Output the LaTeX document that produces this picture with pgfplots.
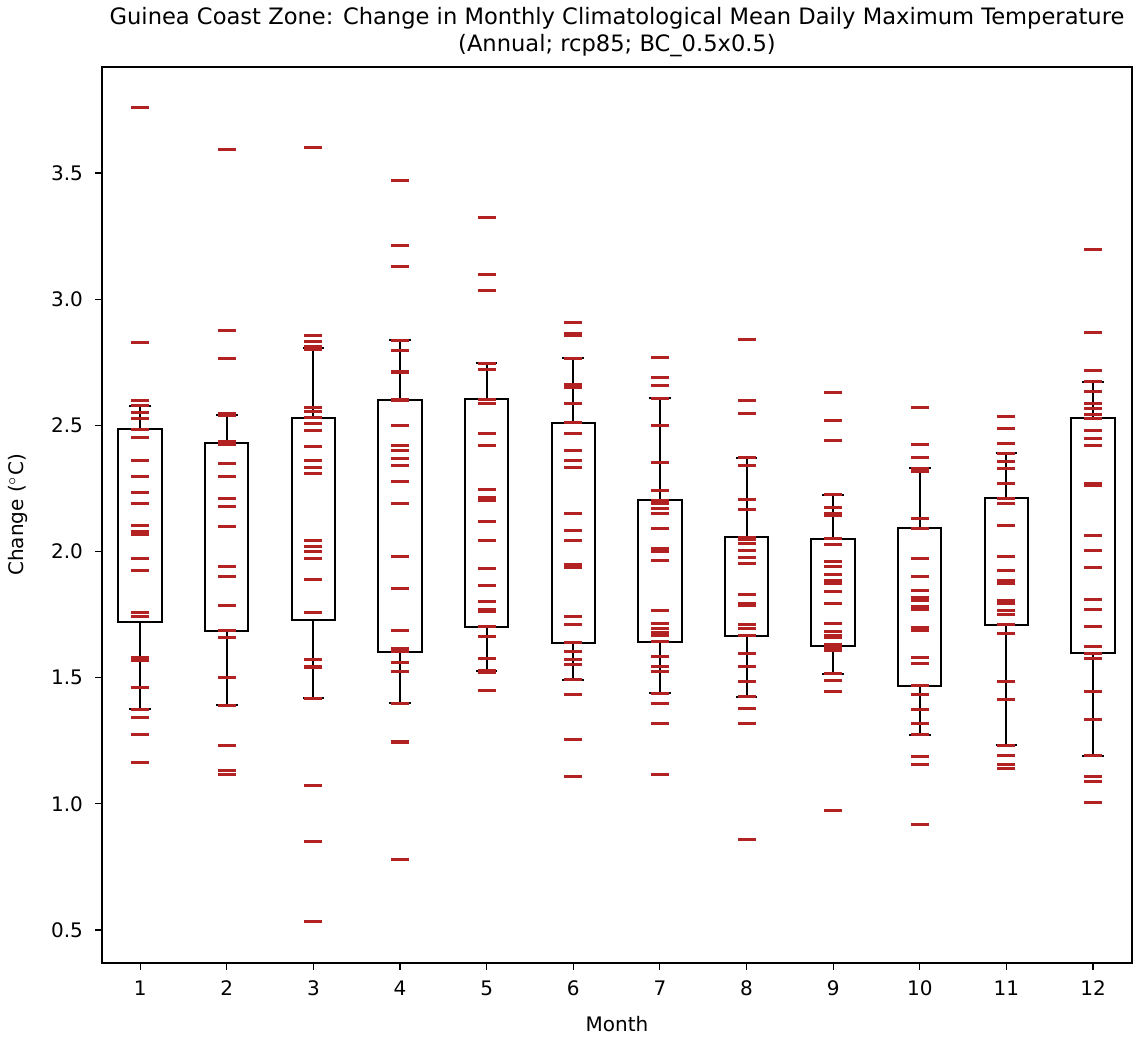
\documentclass[border=0pt]{standalone}
\usepackage{fontspec}
\setmainfont{DejaVu Sans}
\usepackage{pgfplots}
\pgfplotsset{compat=1.18}
\usepgfplotslibrary{statistics}
\definecolor{firebrick}{RGB}{178,34,34}
\begin{document}
\begin{tikzpicture}
\begin{axis}[
  scale only axis,
  width=515pt, height=448pt,
  xmin=0.56, xmax=12.45,
  ymin=0.369, ymax=3.92,
  xtick={1,2,3,4,5,6,7,8,9,10,11,12},
  ytick={0.5,1.0,1.5,2.0,2.5,3.0,3.5},
  yticklabel style={xshift=-2.5pt, /pgf/number format/fixed, /pgf/number format/fixed zerofill, /pgf/number format/precision=1},
  /pgf/number format/assume math mode=true,
  tick align=outside,
  xtick pos=bottom, ytick pos=left,
  major tick length=3.5pt,
  tick style={black, line width=0.6pt},
  axis line style={line width=0.6pt},
  xlabel={Month}, ylabel={Change ($^\circ$C)},
  xlabel style={yshift=-3pt},
  ylabel style={yshift=5pt},
  xticklabel style={yshift=-2pt},
  title={Guinea Coast Zone: Change in Monthly Climatological Mean Daily Maximum Temperature\\(Annual; rcp85; BC\_0.5x0.5)},
  title style={align=center, font=\fontsize{11.3}{13.5}\selectfont, yshift=-4.5pt},
  tick label style={font=\fontsize{10}{12}\selectfont},
  label style={font=\fontsize{10}{12}\selectfont},
  boxplot/draw direction=y,
  boxplot/box extend=0.5,
  boxplot/whisker extend=0.25,
  boxplot/every median/.style={draw=none},
]
\addplot[only marks, mark=-, mark size=4.5pt, color=firebrick, mark options={line width=1.5pt}] coordinates {
(1,3.758)(1,2.830)(1,2.599)(1,2.577)(1,2.552)(1,2.525)(1,2.484)(1,2.453)(1,2.361)(1,2.297)(1,2.235)(1,2.189)(1,2.104)(1,2.078)(1,2.066)(1,1.972)(1,1.926)(1,1.759)(1,1.742)(1,1.579)(1,1.568)(1,1.459)(1,1.374)(1,1.340)(1,1.275)(1,1.162)
(2,3.593)(2,2.875)(2,2.763)(2,2.545)(2,2.540)(2,2.437)(2,2.425)(2,2.347)(2,2.296)(2,2.210)(2,2.179)(2,2.098)(2,1.940)(2,1.900)(2,1.787)(2,1.686)(2,1.657)(2,1.500)(2,1.390)(2,1.229)(2,1.131)(2,1.116)
(3,3.599)(3,2.856)(3,2.831)(3,2.811)(3,2.799)(3,2.569)(3,2.555)(3,2.530)(3,2.508)(3,2.479)(3,2.414)(3,2.361)(3,2.332)(3,2.309)(3,2.044)(3,2.021)(3,1.998)(3,1.974)(3,1.888)(3,1.757)(3,1.573)(3,1.545)(3,1.540)(3,1.419)(3,1.071)(3,0.852)(3,0.533)
(4,3.469)(4,3.211)(4,3.131)(4,2.836)(4,2.796)(4,2.715)(4,2.709)(4,2.602)(4,2.598)(4,2.498)(4,2.421)(4,2.401)(4,2.368)(4,2.341)(4,2.276)(4,2.189)(4,1.980)(4,1.855)(4,1.685)(4,1.616)(4,1.602)(4,1.558)(4,1.526)(4,1.398)(4,1.247)(4,1.241)(4,0.779)
(5,3.324)(5,3.099)(5,3.034)(5,2.746)(5,2.720)(5,2.603)(5,2.585)(5,2.466)(5,2.420)(5,2.244)(5,2.214)(5,2.200)(5,2.117)(5,2.045)(5,1.932)(5,1.866)(5,1.801)(5,1.771)(5,1.762)(5,1.702)(5,1.662)(5,1.577)(5,1.529)(5,1.522)(5,1.447)
(6,2.907)(6,2.865)(6,2.855)(6,2.766)(6,2.660)(6,2.651)(6,2.585)(6,2.511)(6,2.466)(6,2.400)(6,2.362)(6,2.334)(6,2.150)(6,2.084)(6,2.045)(6,1.947)(6,1.938)(6,1.742)(6,1.709)(6,1.639)(6,1.603)(6,1.571)(6,1.553)(6,1.492)(6,1.432)(6,1.254)(6,1.110)
(7,2.770)(7,2.690)(7,2.657)(7,2.607)(7,2.499)(7,2.354)(7,2.243)(7,2.203)(7,2.191)(7,2.170)(7,2.152)(7,2.090)(7,2.011)(7,2.001)(7,1.965)(7,1.767)(7,1.716)(7,1.695)(7,1.679)(7,1.666)(7,1.642)(7,1.584)(7,1.544)(7,1.524)(7,1.437)(7,1.398)(7,1.320)(7,1.115)
(8,2.840)(8,2.598)(8,2.546)(8,2.372)(8,2.340)(8,2.204)(8,2.168)(8,2.057)(8,2.046)(8,2.033)(8,2.003)(8,1.976)(8,1.951)(8,1.828)(8,1.792)(8,1.784)(8,1.709)(8,1.696)(8,1.666)(8,1.597)(8,1.544)(8,1.484)(8,1.425)(8,1.379)(8,1.320)(8,0.857)
(9,2.630)(9,2.519)(9,2.439)(9,2.224)(9,2.175)(9,2.152)(9,2.141)(9,2.051)(9,2.029)(9,1.960)(9,1.940)(9,1.907)(9,1.885)(9,1.872)(9,1.840)(9,1.795)(9,1.716)(9,1.681)(9,1.667)(9,1.658)(9,1.630)(9,1.621)(9,1.608)(9,1.515)(9,1.489)(9,1.445)(9,0.972)
(10,2.571)(10,2.425)(10,2.374)(10,2.330)(10,2.317)(10,2.132)(10,2.092)(10,1.972)(10,1.899)(10,1.847)(10,1.817)(10,1.804)(10,1.782)(10,1.769)(10,1.699)(10,1.685)(10,1.581)(10,1.557)(10,1.468)(10,1.435)(10,1.375)(10,1.320)(10,1.273)(10,1.187)(10,1.155)(10,0.917)
(11,2.536)(11,2.486)(11,2.429)(11,2.389)(11,2.355)(11,2.327)(11,2.268)(11,2.210)(11,2.190)(11,2.103)(11,1.980)(11,1.926)(11,1.883)(11,1.873)(11,1.807)(11,1.795)(11,1.765)(11,1.752)(11,1.709)(11,1.676)(11,1.484)(11,1.413)(11,1.232)(11,1.192)(11,1.155)(11,1.141)
(12,3.198)(12,2.868)(12,2.717)(12,2.673)(12,2.634)(12,2.588)(12,2.566)(12,2.541)(12,2.527)(12,2.480)(12,2.449)(12,2.421)(12,2.269)(12,2.262)(12,2.063)(12,2.004)(12,1.935)(12,1.808)(12,1.769)(12,1.701)(12,1.624)(12,1.596)(12,1.577)(12,1.445)(12,1.332)(12,1.190)(12,1.108)(12,1.087)(12,1.006)
};
\addplot[black, line width=1pt, boxplot prepared={draw position=1, lower whisker=1.374, lower quartile=1.721, median=2.08, upper quartile=2.484, upper whisker=2.577}] coordinates {};
\addplot[black, line width=1pt, boxplot prepared={draw position=2, lower whisker=1.390, lower quartile=1.686, median=2.1, upper quartile=2.430, upper whisker=2.542}] coordinates {};
\addplot[black, line width=1pt, boxplot prepared={draw position=3, lower whisker=1.419, lower quartile=1.728, median=2.2, upper quartile=2.530, upper whisker=2.806}] coordinates {};
\addplot[black, line width=1pt, boxplot prepared={draw position=4, lower whisker=1.398, lower quartile=1.600, median=2.3, upper quartile=2.600, upper whisker=2.836}] coordinates {};
\addplot[black, line width=1pt, boxplot prepared={draw position=5, lower whisker=1.525, lower quartile=1.702, median=2.1, upper quartile=2.603, upper whisker=2.746}] coordinates {};
\addplot[black, line width=1pt, boxplot prepared={draw position=6, lower whisker=1.492, lower quartile=1.636, median=2.1, upper quartile=2.511, upper whisker=2.766}] coordinates {};
\addplot[black, line width=1pt, boxplot prepared={draw position=7, lower whisker=1.437, lower quartile=1.642, median=1.9, upper quartile=2.203, upper whisker=2.607}] coordinates {};
\addplot[black, line width=1pt, boxplot prepared={draw position=8, lower whisker=1.425, lower quartile=1.666, median=1.9, upper quartile=2.057, upper whisker=2.372}] coordinates {};
\addplot[black, line width=1pt, boxplot prepared={draw position=9, lower whisker=1.515, lower quartile=1.626, median=1.8, upper quartile=2.051, upper whisker=2.224}] coordinates {};
\addplot[black, line width=1pt, boxplot prepared={draw position=10, lower whisker=1.273, lower quartile=1.468, median=1.8, upper quartile=2.092, upper whisker=2.330}] coordinates {};
\addplot[black, line width=1pt, boxplot prepared={draw position=11, lower whisker=1.232, lower quartile=1.709, median=1.9, upper quartile=2.210, upper whisker=2.389}] coordinates {};
\addplot[black, line width=1pt, boxplot prepared={draw position=12, lower whisker=1.190, lower quartile=1.596, median=2.0, upper quartile=2.530, upper whisker=2.673}] coordinates {};
\end{axis}
\path (current axis.south west) ++(-51pt,-36.5pt) coordinate (bbA);
\path (current axis.north east) ++(5.5pt,33.5pt) coordinate (bbB);
\path (bbA) rectangle (bbB);
\end{tikzpicture}
\end{document}
